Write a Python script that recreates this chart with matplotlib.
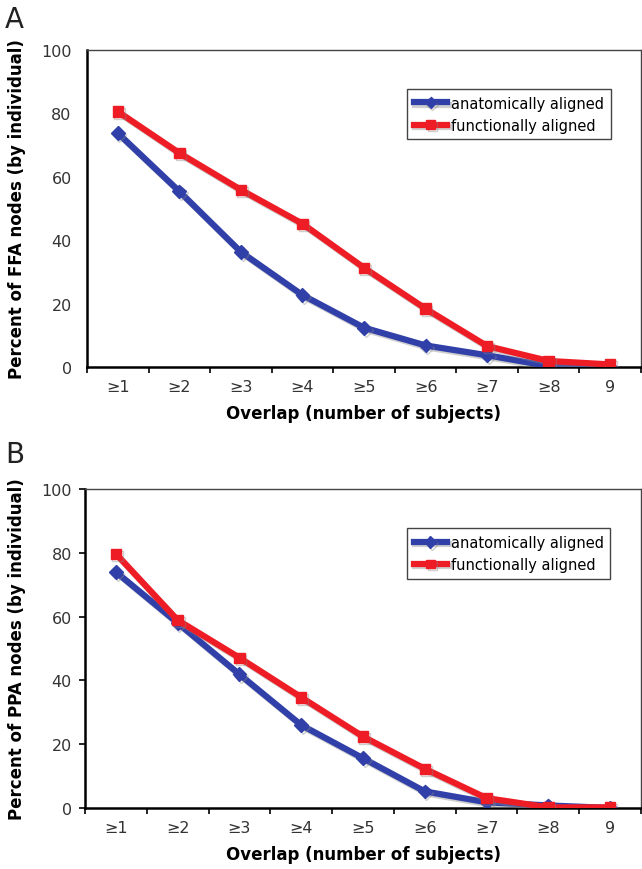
import numpy as np
import matplotlib
matplotlib.use('Agg')
from matplotlib import pyplot as plt
import matplotlib.patheffects as pe

BLUE = '#3040a8'
RED = '#ee1c25'

categories = ['≥1', '≥2', '≥3', '≥4', '≥5', '≥6', '≥7', '≥8', '9']

ffa_anat = [73.8, 55.4, 36.3, 22.7, 12.4, 6.8, 3.7, 0.3, 0.0]
ffa_func = [80.6, 67.5, 55.9, 45.2, 31.3, 18.4, 6.6, 1.9, 0.8]

ppa_anat = [74.0, 58.0, 41.9, 26.0, 15.6, 5.2, 1.8, 0.8, 0.0]
ppa_func = [79.7, 58.9, 47.1, 34.7, 22.4, 12.3, 3.1, 0.2, 0.2]

plt.rcParams['font.family'] = ['DejaVu Sans']

W, H = 642, 870
fig = plt.figure(figsize=(W / 100, H / 100), dpi=100)


def panel(rect_px, anat, func, ylabel, letter, letter_y, ytick_len, ytick_pad):
    left, top, right, bottom = rect_px
    ax = fig.add_axes([left / W, 1 - bottom / H, (right - left) / W, (bottom - top) / H])
    x = np.arange(len(categories))
    shadow = [pe.SimpleLineShadow(offset=(1.2, -1.5), shadow_color='#888888', alpha=0.4),
              pe.Normal()]
    ax.plot(x, anat, color=BLUE, lw=4.5, marker='D', ms=7, mec=BLUE,
            label='anatomically aligned', path_effects=shadow, zorder=3)
    ax.plot(x, func, color=RED, lw=4.5, marker='s', ms=7.5, mec=RED,
            label='functionally aligned', path_effects=shadow, zorder=4)

    ax.set_xlim(-0.5, len(categories) - 0.5)
    ax.set_ylim(0, 100)
    ax.set_yticks(range(0, 101, 20))
    ax.set_xticks(np.arange(-0.5, len(categories)), labels=[])
    ax.set_xticks(x, labels=categories, minor=True)
    ax.tick_params(axis='x', which='major', direction='out', length=4, width=1.2)
    ax.tick_params(axis='x', which='minor', length=0, pad=9, labelsize=11.5,
                   labelcolor='#333333')
    ax.tick_params(axis='y', direction='out', length=ytick_len, width=1.2,
                   labelsize=11.5, labelcolor='#333333', pad=ytick_pad)

    for s in ['left', 'bottom']:
        ax.spines[s].set_linewidth(1.8)
        ax.spines[s].set_color('black')
    for s in ['top', 'right']:
        ax.spines[s].set_linewidth(1.0)
        ax.spines[s].set_color('#444444')

    ax.set_ylabel(ylabel, fontsize=12, fontweight='bold', labelpad=11)
    ax.set_xlabel('Overlap (number of subjects)', fontsize=12, fontweight='bold',
                  labelpad=7)

    leg = ax.legend(loc='upper right', bbox_to_anchor=(0.945, 0.877), fontsize=10.5,
                    frameon=True, fancybox=False, framealpha=1, edgecolor='#444444',
                    handlelength=2.3, handletextpad=0.25, borderpad=0.45,
                    labelspacing=0.5, borderaxespad=0, markerscale=0.85)
    leg.get_frame().set_linewidth(1.0)

    fig.text(5 / W, 1 - letter_y / H, letter, fontsize=20, color='#222222',
             va='center', ha='left')
    return ax


panel((87, 51, 641, 368), ffa_anat, ffa_func,
      'Percent of FFA nodes (by individual)', 'A', 20, 0, 11)
panel((85, 490, 641, 809), ppa_anat, ppa_func,
      'Percent of PPA nodes (by individual)', 'B', 455, 4.5, 5)

fig.savefig('out.png', dpi=100)
